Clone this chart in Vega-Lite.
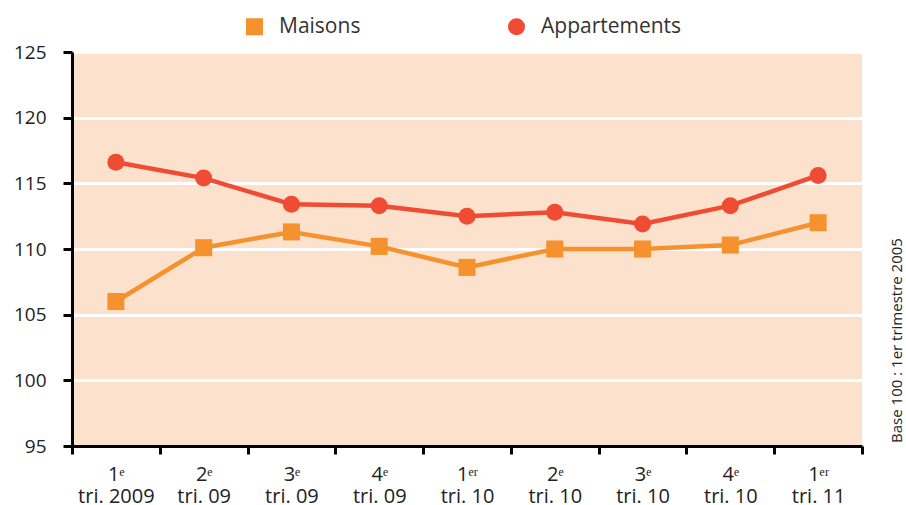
{
  "$schema": "https://vega.github.io/schema/vega-lite/v6.json",
  "width": 790,
  "height": 394,
  "autosize": {"type": "none"},
  "padding": {"left": 72, "top": 52, "right": 44, "bottom": 59},
  "config": {
    "font": "Open Sans",
    "view": {"fill": "#FCE1CC", "stroke": null}
  },
  "data": {
    "values": [
      {"q": "1ᵉ|tri. 2009", "s": "Maisons", "v": 106.0},
      {"q": "2ᵉ|tri. 09", "s": "Maisons", "v": 110.1},
      {"q": "3ᵉ|tri. 09", "s": "Maisons", "v": 111.3},
      {"q": "4ᵉ|tri. 09", "s": "Maisons", "v": 110.2},
      {"q": "1ᵉʳ|tri. 10", "s": "Maisons", "v": 108.6},
      {"q": "2ᵉ|tri. 10", "s": "Maisons", "v": 110.0},
      {"q": "3ᵉ|tri. 10", "s": "Maisons", "v": 110.0},
      {"q": "4ᵉ|tri. 10", "s": "Maisons", "v": 110.3},
      {"q": "1ᵉʳ|tri. 11", "s": "Maisons", "v": 112.0},
      {"q": "1ᵉ|tri. 2009", "s": "Appartements", "v": 116.6},
      {"q": "2ᵉ|tri. 09", "s": "Appartements", "v": 115.4},
      {"q": "3ᵉ|tri. 09", "s": "Appartements", "v": 113.4},
      {"q": "4ᵉ|tri. 09", "s": "Appartements", "v": 113.3},
      {"q": "1ᵉʳ|tri. 10", "s": "Appartements", "v": 112.5},
      {"q": "2ᵉ|tri. 10", "s": "Appartements", "v": 112.8},
      {"q": "3ᵉ|tri. 10", "s": "Appartements", "v": 111.9},
      {"q": "4ᵉ|tri. 10", "s": "Appartements", "v": 113.3},
      {"q": "1ᵉʳ|tri. 11", "s": "Appartements", "v": 115.6}
    ]
  },
  "encoding": {
    "x": {
      "field": "q",
      "type": "nominal",
      "sort": null,
      "scale": {"paddingInner": 0, "paddingOuter": 0},
      "axis": {
        "title": null,
        "labelAngle": 0,
        "labelExpr": "split(datum.label, '|')",
        "labelFontSize": 20,
        "labelLineHeight": 22,
        "labelColor": "#222222",
        "labelPadding": 10,
        "tickBand": "extent",
        "tickColor": "#000000",
        "tickWidth": 3,
        "tickSize": 8,
        "domainColor": "#000000",
        "domainWidth": 3,
        "grid": false
      }
    }
  },
  "layer": [
    {
      "mark": {"type": "line", "strokeWidth": 4.5},
      "encoding": {
        "y": {
          "field": "v",
          "type": "quantitative",
          "scale": {"domain": [95, 125], "nice": false, "zero": false},
          "axis": {
            "title": null,
            "values": [95, 100, 105, 110, 115, 120, 125],
            "labelFontSize": 19,
            "labelColor": "#222222",
            "labelPadding": 17,
            "tickColor": "#000000",
            "tickWidth": 3,
            "tickSize": 9,
            "domainColor": "#000000",
            "domainWidth": 3,
            "grid": true,
            "gridColor": "#FFFFFF",
            "gridWidth": 3,
            "gridOpacity": 1
          }
        },
        "color": {
          "field": "s",
          "type": "nominal",
          "scale": {"domain": ["Maisons", "Appartements"], "range": ["#F6922E", "#EF4C33"]},
          "legend": null
        }
      }
    },
    {
      "mark": {"type": "point", "filled": true, "opacity": 1, "size": 290},
      "encoding": {
        "y": {
          "field": "v",
          "type": "quantitative",
          "scale": {"domain": [95, 125], "nice": false, "zero": false},
          "axis": null
        },
        "color": {
          "field": "s",
          "type": "nominal",
          "scale": {"domain": ["Maisons", "Appartements"], "range": ["#F6922E", "#EF4C33"]},
          "legend": {
            "title": null,
            "orient": "none",
            "direction": "horizontal",
            "legendX": 172,
            "legendY": -36,
            "labelFontSize": 21,
            "labelColor": "#333333",
            "labelOffset": 14,
            "symbolSize": 290,
            "columnPadding": 145,
            "symbolStrokeWidth": 0
          }
        },
        "shape": {
          "field": "s",
          "type": "nominal",
          "scale": {"domain": ["Maisons", "Appartements"], "range": ["square", "circle"]},
          "legend": {
            "title": null,
            "orient": "none",
            "direction": "horizontal",
            "legendX": 172,
            "legendY": -36,
            "labelFontSize": 21,
            "labelColor": "#333333",
            "labelOffset": 14,
            "symbolSize": 290,
            "columnPadding": 145,
            "symbolStrokeWidth": 0
          }
        }
      }
    },
    {
      "mark": {"type": "point", "opacity": 0},
      "encoding": {
        "y": {
          "field": "v",
          "type": "quantitative",
          "scale": {"domain": [95, 125], "nice": false, "zero": false},
          "axis": {
            "orient": "right",
            "labels": false,
            "ticks": false,
            "domain": false,
            "grid": false,
            "title": "Base 100 : 1er trimestre 2005",
            "titleAngle": 270,
            "titleFontSize": 15,
            "titleFontWeight": "normal",
            "titleColor": "#222222",
            "titleAlign": "center",
            "titleBaseline": "middle",
            "titleX": 34,
            "titleY": 288
          }
        }
      }
    }
  ],
  "resolve": {
    "scale": {"y": "independent"},
    "legend": {"color": "independent", "shape": "independent"}
  }
}
